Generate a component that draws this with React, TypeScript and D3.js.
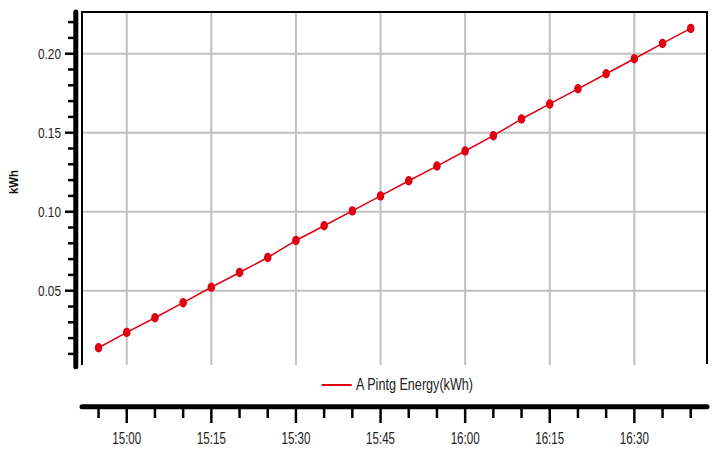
import * as d3 from 'd3';
import React, { useEffect, useRef } from 'react';

const times = [
  '14:55', '15:00', '15:05', '15:10', '15:15', '15:20', '15:25', '15:30',
  '15:35', '15:40', '15:45', '15:50', '15:55', '16:00', '16:05', '16:10',
  '16:15', '16:20', '16:25', '16:30', '16:35', '16:40',
];
const energy = [
  0.0139, 0.0236, 0.0329, 0.0424, 0.0522, 0.0615, 0.071, 0.0818,
  0.0911, 0.1005, 0.11, 0.1196, 0.1289, 0.1384, 0.1481, 0.1587,
  0.1682, 0.1778, 0.1873, 0.1968, 0.2065, 0.216,
];
const yTicks = [0.05, 0.1, 0.15, 0.2];
const seriesName = 'A Pintg Energy(kWh)';
const yTitle = 'kWh';

const toDate = (s: string) => {
  const [h, m] = s.split(':').map(Number);
  return new Date(2020, 0, 1, h, m);
};

const App: React.FC = () => {
  const ref = useRef<SVGSVGElement | null>(null);

  useEffect(() => {
    if (!ref.current) return;
    const svg = d3.select(ref.current);
    svg.selectAll('*').remove();

    const left = 82;
    const right = 707;
    const top = 12;
    const bottom = 366.7;

    const data = times.map((t, i) => ({ date: toDate(t), value: energy[i] }));

    const x = d3
      .scaleTime()
      .domain([new Date(2020, 0, 1, 14, 52, 4), new Date(2020, 0, 1, 16, 42, 53)])
      .range([left, right]);
    const y = d3.scaleLinear().domain([0.0019, 0.2264]).range([bottom, top]);

    const font = '"Liberation Sans", Arial, sans-serif';
    const major = d3.timeMinute.every(15)!.range(x.domain()[0], x.domain()[1]);
    const minor = d3.timeMinute.every(5)!.range(x.domain()[0], x.domain()[1]);
    const yMinor = d3.range(1, 23).map((d) => d / 100);

    // grid
    const grid = svg.append('g').attr('stroke', '#c0c0c0').attr('stroke-width', 2);
    grid
      .selectAll('line.v')
      .data(major)
      .enter()
      .append('line')
      .attr('x1', (d) => x(d))
      .attr('x2', (d) => x(d))
      .attr('y1', top)
      .attr('y2', 365);
    grid
      .selectAll('line.h')
      .data(yTicks)
      .enter()
      .append('line')
      .attr('class', 'h')
      .attr('x1', left)
      .attr('x2', right)
      .attr('y1', (d) => y(d))
      .attr('y2', (d) => y(d));

    // plot border (no bottom edge)
    svg
      .append('path')
      .attr('d', `M${left},365V${top}H${right}V364`)
      .attr('fill', 'none')
      .attr('stroke', '#000')
      .attr('stroke-width', 2);

    // left axis
    svg
      .append('line')
      .attr('x1', 75.8)
      .attr('x2', 75.8)
      .attr('y1', top)
      .attr('y2', bottom)
      .attr('stroke', '#000')
      .attr('stroke-width', 5)
      .attr('stroke-linecap', 'round');
    svg
      .append('g')
      .selectAll('line')
      .data(yMinor)
      .enter()
      .append('line')
      .attr('x1', (d) => (Math.round(d * 100) % 5 === 0 ? 65 : 68))
      .attr('x2', 75)
      .attr('y1', (d) => y(d))
      .attr('y2', (d) => y(d))
      .attr('stroke', '#000')
      .attr('stroke-width', 2.5);
    svg
      .append('g')
      .selectAll('text')
      .data(yTicks)
      .enter()
      .append('text')
      .attr('x', 61)
      .attr('y', (d) => y(d) + 5)
      .attr('text-anchor', 'end')
      .attr('font-family', font)
      .attr('font-size', 14)
      .attr('fill', '#222')
      .attr('textLength', 23)
      .attr('lengthAdjust', 'spacingAndGlyphs')
      .text((d) => d3.format('.2f')(d));

    svg
      .append('text')
      .attr('transform', 'translate(18,182) rotate(-90)')
      .attr('text-anchor', 'middle')
      .attr('font-family', font)
      .attr('font-weight', 'bold')
      .attr('font-size', 13)
      .attr('fill', '#111')
      .attr('textLength', 24)
      .attr('lengthAdjust', 'spacingAndGlyphs')
      .text(yTitle);

    // bottom axis
    svg
      .append('line')
      .attr('x1', left)
      .attr('x2', right)
      .attr('y1', 406.7)
      .attr('y2', 406.7)
      .attr('stroke', '#000')
      .attr('stroke-width', 5)
      .attr('stroke-linecap', 'round');
    svg
      .append('g')
      .selectAll('line')
      .data(minor)
      .enter()
      .append('line')
      .attr('x1', (d) => x(d))
      .attr('x2', (d) => x(d))
      .attr('y1', 408)
      .attr('y2', (d) => (d.getMinutes() % 15 === 0 ? 423 : 418))
      .attr('stroke', '#000')
      .attr('stroke-width', 2.5);
    svg
      .append('g')
      .selectAll('text')
      .data(major)
      .enter()
      .append('text')
      .attr('x', (d) => x(d))
      .attr('y', 444)
      .attr('text-anchor', 'middle')
      .attr('font-family', font)
      .attr('font-size', 17)
      .attr('fill', '#222')
      .attr('textLength', 29)
      .attr('lengthAdjust', 'spacingAndGlyphs')
      .text((d) => d3.timeFormat('%H:%M')(d));

    // series
    const line = d3
      .line<{ date: Date; value: number }>()
      .x((d) => x(d.date))
      .y((d) => y(d.value));
    svg
      .append('path')
      .datum(data)
      .attr('fill', 'none')
      .attr('stroke', '#e00010')
      .attr('stroke-width', 1.5)
      .attr('d', line);
    svg
      .append('g')
      .selectAll('ellipse')
      .data(data)
      .enter()
      .append('ellipse')
      .attr('cx', (d) => x(d.date))
      .attr('cy', (d) => y(d.value))
      .attr('rx', 3.8)
      .attr('ry', 4.7)
      .attr('fill', '#e00010');

    // legend
    svg
      .append('line')
      .attr('x1', 321.7)
      .attr('x2', 351.7)
      .attr('y1', 385)
      .attr('y2', 385)
      .attr('stroke', '#e00010')
      .attr('stroke-width', 2);
    svg
      .append('text')
      .attr('x', 356)
      .attr('y', 390)
      .attr('font-family', font)
      .attr('font-size', 16)
      .attr('fill', '#222')
      .attr('textLength', 117)
      .attr('lengthAdjust', 'spacingAndGlyphs')
      .text(seriesName);
  }, []);

  return (
    <svg
      ref={ref}
      width={716}
      height={460}
      style={{ position: 'absolute', left: 0, top: 0, background: '#fff' }}
    />
  );
};

export default App;
